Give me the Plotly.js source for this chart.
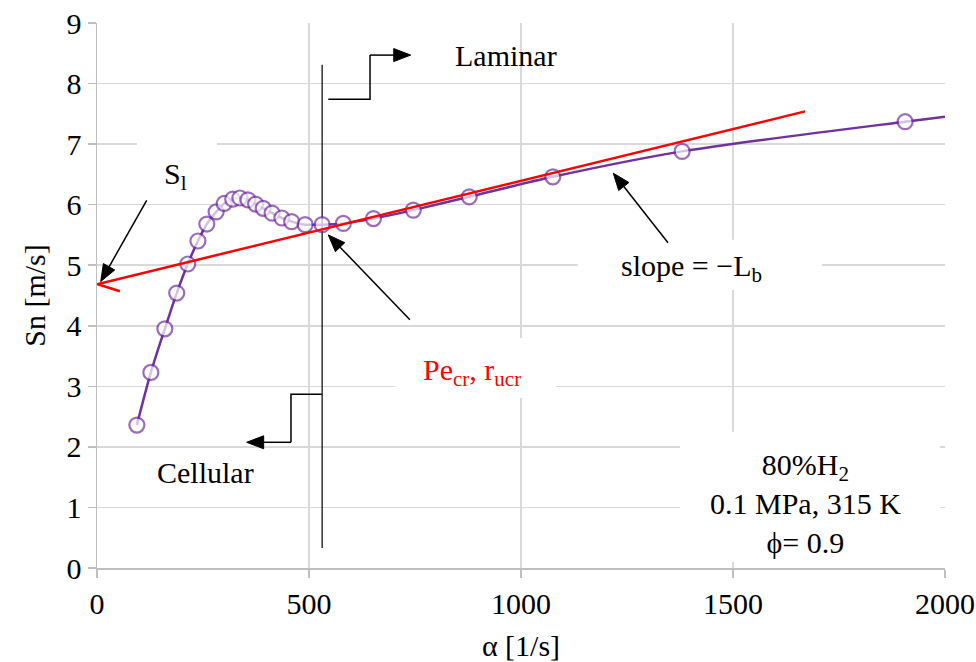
<!DOCTYPE html>
<html>
<head>
<meta charset="utf-8">
<script src="https://cdn.plot.ly/plotly-3.0.1.min.js"></script>
<style>html,body{margin:0;padding:0;background:#fff;}</style>
</head>
<body>
<div id="chart" style="width:976px;height:662px;"></div>
<script>
// Measured stretch rate alpha [1/s] and flame speed Sn [m/s]
var alpha = [94, 127, 160, 188, 214, 238, 259, 281, 300, 320, 337, 356, 374, 392, 413, 436, 459, 491, 531, 581, 652, 746, 878, 1075, 1380, 1906, 2000];
var sn    = [2.36, 3.23, 3.95, 4.54, 5.02, 5.40, 5.68, 5.88, 6.02, 6.09, 6.11, 6.08, 6.01, 5.94, 5.86, 5.78, 5.72, 5.67, 5.67, 5.69, 5.77, 5.91, 6.13, 6.46, 6.88, 7.37, 7.45];
// last entry is only where the curve leaves the plot, no marker
var markerSizes = [15,15,15,15,15,15,15,15,15,15,15,15,15,15,15,15,15,15,15,15,15,15,15,15,15,15,0];

// Linear extrapolation line (slope = -Lb)
var fitAlpha = [0, 1670];
var fitSn = [4.685, 7.54];

// Critical point divider
var critAlpha = [531, 531];
var critSn = [0.33, 8.31];

var xTicks = [0, 500, 1000, 1500, 2000];
var yTicks = [0, 1, 2, 3, 4, 5, 6, 7, 8, 9];

var FONT = 'Liberation Serif, Times New Roman, serif';
var PURPLE = '#7030a0';

var traces = [
  {x: critAlpha, y: critSn, mode: 'lines', line: {color: '#000', width: 1.2}, hoverinfo: 'skip', showlegend: false},
  {x: alpha, y: sn, mode: 'lines+markers', line: {color: PURPLE, width: 2.5, shape: 'spline', smoothing: 0.8},
   marker: {symbol: 'circle', size: markerSizes, color: '#fff', line: {color: PURPLE, width: 2.2}}, showlegend: false},
  {x: fitAlpha, y: fitSn, mode: 'lines', line: {color: '#ff0000', width: 2.5}, showlegend: false}
];

function whiteBox(x0, x1, y0, y1) {
  return {type: 'rect', xref: 'x', yref: 'y', x0: x0, x1: x1, y0: y0, y1: y1,
          fillcolor: '#fff', line: {width: 0}, layer: 'between'};
}

// pixel scale of the plot area (848 px for 2000 units, 545 px for 9 units)
var SX = 848 / 2000, SY = 545 / 9;
function arrowShapes(tx, ty, fx, fy) {
  var dx = (tx - fx) * SX, dy = (ty - fy) * SY;
  var len = Math.sqrt(dx * dx + dy * dy);
  var ux = dx / len, uy = dy / len;
  var L = 17, W = 6.5;
  var bx = tx * SX - ux * L, by = ty * SY - uy * L;
  var p1x = (bx - uy * W) / SX, p1y = (by + ux * W) / SY;
  var p2x = (bx + uy * W) / SX, p2y = (by - ux * W) / SY;
  return [
    {type: 'line', xref: 'x', yref: 'y', x0: fx, y0: fy, x1: bx / SX, y1: by / SY, line: {color: '#000', width: 1.5}},
    {type: 'path', xref: 'x', yref: 'y', path: 'M ' + tx + ' ' + ty + ' L ' + p1x + ' ' + p1y + ' L ' + p2x + ' ' + p2y + ' Z',
     fillcolor: '#000', line: {color: '#000', width: 1}}
  ];
}

var shapes = [
  whiteBox(94, 283, 6.16, 7.15),
  whiteBox(703, 1083, 2.81, 3.80),
  whiteBox(1134, 1710, 4.59, 5.42),
  whiteBox(1375, 1988, 0.10, 2.25),
  // red arrow barb
  {type: 'line', xref: 'x', yref: 'y', x0: 2, y0: 4.685, x1: 54, y1: 4.57, line: {color: '#ff0000', width: 2.5}},
  // Laminar elbow
  {type: 'path', xref: 'x', yref: 'y', path: 'M 545.5 7.74 L 643.9 7.74 L 643.9 8.47', line: {color: '#000', width: 1.5}},
  // Cellular elbow
  {type: 'path', xref: 'x', yref: 'y', path: 'M 530 2.87 L 457.5 2.87 L 457.5 2.076', line: {color: '#000', width: 1.5}}
].concat(
  arrowShapes(8.7, 4.73, 117.2, 6.07),
  arrowShapes(545.5, 5.50, 738, 4.10),
  arrowShapes(1217.7, 6.52, 1346.7, 5.37),
  arrowShapes(739.9, 8.47, 643.9, 8.47),
  arrowShapes(353, 2.076, 457.5, 2.076)
);

function label(x, y, text, color) {
  return {x: x, y: y, xref: 'x', yref: 'y', text: text, showarrow: false,
          font: {family: FONT, size: 30, color: color || '#000'}, xanchor: 'center', yanchor: 'middle'};
}

var annotations = [
  label(964, 8.47, 'Laminar'),
  label(257, 1.58, 'Cellular'),
  label(184, 6.47, 'S<sub>l</sub>'),
  label(884, 3.24, 'Pe<sub>cr</sub>, r<sub>ucr</sub>', '#ff0000'),
  label(1403, 4.95, 'slope = −L<sub>b</sub>'),
  {x: 1670, y: 1.07, xref: 'x', yref: 'y', text: '80%H<sub>2</sub><br>0.1 MPa, 315 K<br>ϕ= 0.9', showarrow: false,
   font: {family: FONT, size: 30, color: '#000'}, align: 'center', xanchor: 'center', yanchor: 'middle'}
];

var axisCommon = {
  showgrid: true, gridcolor: '#d9d9d9', gridwidth: 1.5,
  showline: true, linecolor: '#bfbfbf', linewidth: 1.5,
  ticks: 'outside', ticklen: 8, tickcolor: '#bfbfbf', tickwidth: 1.5,
  tickfont: {family: FONT, size: 30, color: '#000'},
  zeroline: false, fixedrange: true
};

var layout = {
  width: 976, height: 662,
  margin: {l: 97, r: 31, t: 23, b: 94},
  paper_bgcolor: '#fff', plot_bgcolor: '#fff',
  xaxis: Object.assign({}, axisCommon, {range: [0, 2000], tickvals: xTicks, ticktext: xTicks.map(String),
    title: {text: 'α [1/s]', font: {family: FONT, size: 30, color: '#000'}, standoff: 18}}),
  yaxis: Object.assign({}, axisCommon, {range: [0, 9], tickvals: yTicks, ticktext: yTicks.map(String),
    title: {text: 'Sn [m/s]', font: {family: FONT, size: 30, color: '#000'}, standoff: 12}}),
  shapes: shapes,
  annotations: annotations,
  showlegend: false
};

Plotly.newPlot('chart', traces, layout, {displayModeBar: false, staticPlot: true});
</script>
</body>
</html>
